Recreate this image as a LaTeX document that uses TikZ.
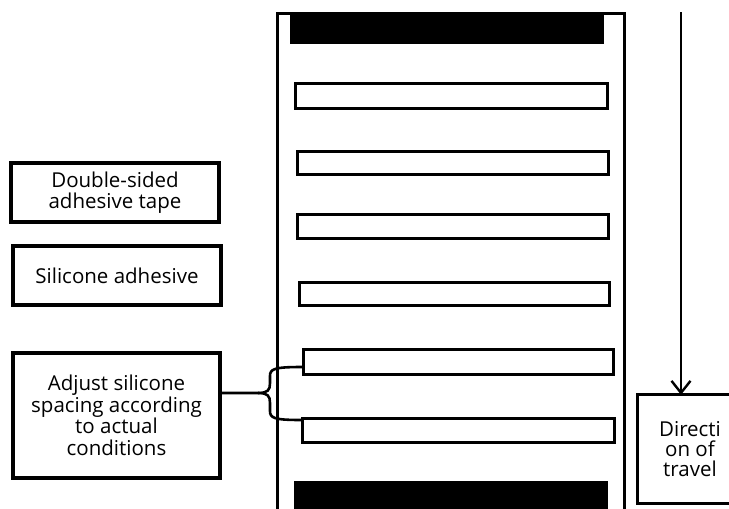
\documentclass[tikz,border=0pt]{standalone}
\usepackage{fontspec}
\setmainfont{Open Sans}
\usetikzlibrary{arrows.meta}
\begin{document}
\begin{tikzpicture}[x=1pt,y=-1pt,
  bar/.style={draw,line width=3pt,inner sep=0pt,anchor=north west},
  solidbar/.style={fill=black,inner sep=0pt,anchor=north west},
  label/.style={draw,line width=3.2pt,inner sep=0pt,align=center,
    font=\fontsize{20.5}{21.6}\selectfont},
  plain/.style={inner sep=0pt,align=center,font=\fontsize{20.5}{20}\selectfont},
  edge/.style={line width=3.2pt},
  frame/.style={line width=3pt},
  link/.style={line width=2.6pt},
  travel/.style={line width=2.4pt,-{Straight Barb[length=12pt,width=19pt,line width=2.4pt]}}]
\useasboundingbox (0,0) rectangle (729,509);
% tray frame
\draw[frame] (277,515) -- (277,13) -- (624,13) -- (624,515);
% solid end bars
\node[solidbar,minimum width=314pt,minimum height=31pt] (topbar) at (290,13) {};
\node[solidbar,minimum width=314pt,minimum height=34pt] (botbar) at (294,481) {};
% adhesive strips
\node[bar,minimum width=312pt,minimum height=25pt] (b1) at (294,82) {};
\node[bar,minimum width=311pt,minimum height=23pt] (b2) at (296,150) {};
\node[bar,minimum width=311pt,minimum height=24pt] (b3) at (296,213) {};
\node[bar,minimum width=310pt,minimum height=23pt] (b4) at (298,281) {};
\node[bar,minimum width=310pt,minimum height=25pt] (b5) at (302,348) {};
\node[bar,minimum width=312pt,minimum height=24pt] (b6) at (301,417) {};
% legend boxes
\node[label,minimum width=208pt,minimum height=59pt] (tape) at (115,192.5) {Double-sided\\adhesive tape};
\node[label,minimum width=208pt,minimum height=59pt] (sil) at (117,275.5) {Silicone adhesive};
\node[label,minimum width=207pt,minimum height=125pt] (adj) at (116.5,415.5) {Adjust silicone\\spacing according\\to actual\\conditions};
% direction of travel (box runs off the right edge)
\node[plain,minimum width=104pt,minimum height=108pt] (dir) at (690,449) {Directi\\on of\\travel};
\draw[edge] ([xshift=40pt]dir.north east) -- (dir.north west) -- (dir.south west) -- ([xshift=40pt]dir.south east);
\coordinate (atop) at (681,12);
\draw[travel] (atop) -- (atop |- dir.north);
% brace
\coordinate (tip) at (258,393);
\coordinate (up) at (b5.west |- 0,367);
\coordinate (dn) at (b6.west |- 0,420);
\draw[link] (adj.east |- tip) -- (tip)
  .. controls (268,393) and (270,390) .. (270,383) -- (270,376)
  .. controls (270,369) and (274,367) .. (up);
\draw[link] (tip)
  .. controls (268,393) and (270,396) .. (270,403) -- (270,411)
  .. controls (270,418) and (274,420) .. (dn);
\end{tikzpicture}
\end{document}
